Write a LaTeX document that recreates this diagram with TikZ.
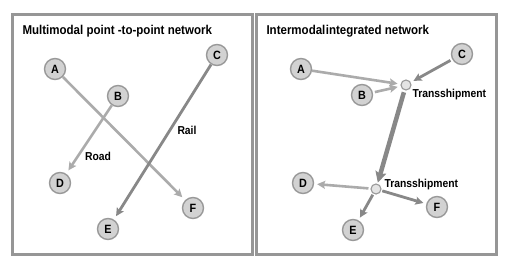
\documentclass[tikz,border=0pt]{standalone}
\usepackage{fontspec}
\setmainfont{Liberation Sans}[FakeStretch=0.9]
\usetikzlibrary{arrows.meta}
\definecolor{framegray}{HTML}{969696}
\definecolor{lightarr}{HTML}{ABABAB}
\definecolor{darkarr}{HTML}{888888}
\definecolor{nodefill}{HTML}{D2D2D2}
\definecolor{nodeline}{HTML}{999999}
\begin{document}
\begin{tikzpicture}[x=1pt,y=-1pt,
  panel/.style={draw=framegray,line width=3pt},
  city/.style={circle,draw=nodeline,line width=1.4pt,fill=nodefill,minimum size=21pt,inner sep=0pt,font=\bfseries\fontsize{12}{12}\selectfont},
  hub/.style={circle,draw=nodeline,line width=1.1pt,fill=nodefill!60,minimum size=10pt,inner sep=0pt},
  ttl/.style={anchor=west,font=\bfseries\fontsize{12.8}{12.8}\selectfont},
  lbl/.style={font=\bfseries\fontsize{11.5}{11.5}\selectfont},
  light/.style={draw=lightarr,line width=2.6pt,-{Stealth[length=8pt,width=8pt,inset=1.5pt]}},
  dark/.style={draw=darkarr,line width=2.8pt,-{Stealth[length=8pt,width=8pt,inset=1.5pt]}},
  heavy/.style={draw=darkarr,line width=4.5pt,-{Stealth[length=11pt,width=11pt,inset=2pt]}}]
\useasboundingbox (0,0) rectangle (509,269);
\fill[white] (0,0) rectangle (509,269);
% panels
\draw[panel] (12,14) rectangle (252,254);
\draw[panel] (256,14) rectangle (496,254);
\node[ttl] (t1) at (19,31) {Multimodal point -to-point network};
\node[ttl] (t2) at (263,31) {Intermodal\hspace{0.5pt}integrated network};
% left panel
\node[city] (A) at (55,69) {A};
\node[city] (B) at (118,96) {B};
\node[city] (C) at (217,55) {C};
\node[city] (D) at (60,183) {D};
\node[city] (E) at (108,229) {E};
\node[city] (F) at (193,208) {F};
\draw[light,shorten >=4pt] (A) -- (F);
\draw[light,shorten >=4pt] (B) -- (D);
\draw[dark,shorten >=4pt] (C) -- (E);
\node[lbl] (road) at (98,156) {Road};
\node[lbl] (rail) at (187,130) {Rail};
% right panel
\node[city] (A2) at (301,69) {A};
\node[city] (B2) at (362,95) {B};
\node[city] (C2) at (462,54) {C};
\node[city] (D2) at (303,183) {D};
\node[city] (E2) at (353,230) {E};
\node[city] (F2) at (437,207) {F};
\node[hub] (T1) at (406,85) {};
\node[hub] (T2) at (376,189) {};
\node[lbl,anchor=west] (T1l) at (409,95) {Transshipment};
\node[lbl,anchor=west] (T2l) at (381,185) {Transshipment};
\draw[light,shorten >=3pt] (A2) -- (T1);
\draw[light,shorten >=3pt,shorten <=2pt] (B2) -- (T1);
\draw[dark,shorten >=3pt,shorten <=2pt] (C2) -- (T1);
\draw[heavy,shorten >=1pt,shorten <=2pt] (T1) -- (T2);
\draw[light,shorten >=3pt,shorten <=2pt] (T2) -- (D2);
\draw[dark,shorten >=3pt,shorten <=1pt] (T2) -- (F2);
\draw[dark,shorten >=3pt,shorten <=1pt] (T2) -- (E2);
\end{tikzpicture}
\end{document}
